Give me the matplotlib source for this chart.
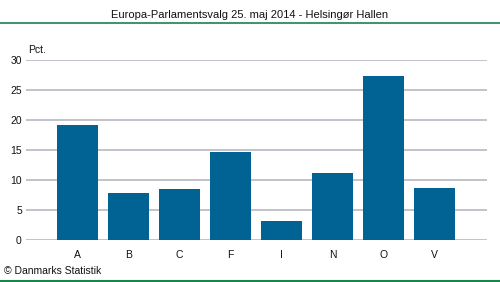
import matplotlib
matplotlib.use("Agg")
import matplotlib.pyplot as plt
from matplotlib.lines import Line2D

plt.rcParams['font.family'] = ['Liberation Sans', 'DejaVu Sans']

categories = ["A", "B", "C", "F", "I", "N", "O", "V"]
values = [19.2, 7.8, 8.5, 14.7, 3.2, 11.2, 27.4, 8.7]
yticks = [0, 5, 10, 15, 20, 25, 30]
title = "Europa-Parlamentsvalg 25. maj 2014 - Helsingør Hallen"

W, H = 500, 282
fig = plt.figure(figsize=(W / 100, H / 100), dpi=100)
ax = fig.add_axes([26 / W, 1 - 240 / H, (487 - 26) / W, 180 / H])

x = list(range(len(categories)))
ax.bar(x, values, width=0.8, color="#006394", zorder=3)
ax.set_xlim(-1.01, 8.03)
ax.set_ylim(0, 30)
ax.set_yticks(yticks)
ax.set_xticks(x)
ax.set_xticklabels(categories)
ax.grid(axis="y", color="#B8B8C2", linewidth=1.2, zorder=0)
ax.tick_params(axis="both", length=0, labelsize=7.5, colors="#111111")
ax.tick_params(axis="x", pad=7)
ax.tick_params(axis="y", pad=3)
for s in ax.spines.values():
    s.set_visible(False)

fig.text(0.5, 1 - 15 / H, title, ha="center", va="center", fontsize=8, color="#111111")
fig.add_artist(Line2D([0, 1], [1 - 22.5 / H, 1 - 22.5 / H], color="#17864A", linewidth=1.2))
fig.add_artist(Line2D([0, 1], [1 - 281 / H, 1 - 281 / H], color="#17864A", linewidth=1.5))
fig.text(28 / W, 1 - 50 / H, "Pct.", ha="left", va="center", fontsize=7.5, color="#111111")
fig.text(4 / W, 1 - 271 / H, "© Danmarks Statistik", ha="left", va="center", fontsize=7.5, color="#111111")

fig.savefig("out.png", dpi=100)
